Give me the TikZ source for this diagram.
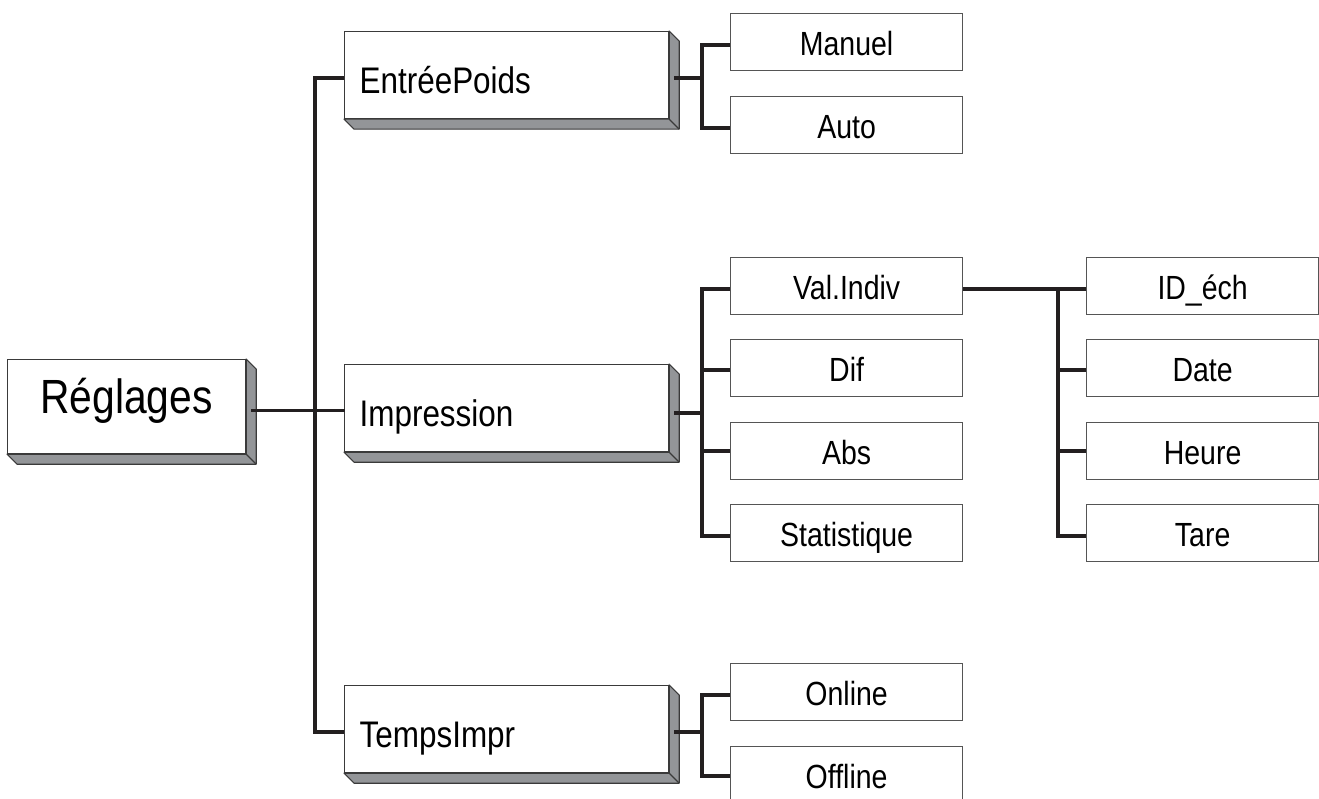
\documentclass[tikz,border=0pt]{standalone}
\usepackage{fontspec}
\setmainfont[FakeStretch=0.85]{Liberation Sans}
\definecolor{lineblack}{HTML}{231F20}
\definecolor{edgegray}{HTML}{3A3A3A}
\definecolor{boxgray}{HTML}{555555}
\definecolor{facegray}{HTML}{939598}
\newcommand\mkshadow[1]{%
  \filldraw[face] (#1.north east) -- ++(10,10) -- ([shift={(10,10)}]#1.south east)
    -- ([shift={(10,10)}]#1.south west) -- (#1.south west) -- (#1.south east) -- cycle;
  \draw[face] (#1.south east) -- ++(10,10);}
\begin{document}
\begin{tikzpicture}[x=1pt,y=-1pt,
  conn/.style={line width=3.6pt, draw=lineblack, line join=miter},
  face/.style={fill=facegray, draw=edgegray, line width=1.1pt, line join=round},
  bigbox/.style={draw=edgegray, line width=1.2pt, fill=white, anchor=north west,
    minimum width=324pt, minimum height=87pt, text width=294pt, inner xsep=15pt,
    inner ysep=0pt, align=left, font=\fontsize{37}{40}\selectfont,
    text height=37pt, text depth=0pt},
  rootbox/.style={draw=edgegray, line width=1.2pt, fill=white, anchor=north west,
    minimum width=238pt, minimum height=94pt, inner sep=0pt,
    font=\fontsize{48}{52}\selectfont, text height=32pt, text depth=18pt},
  smallbox/.style={draw=boxgray, line width=1.2pt, fill=white, anchor=north west,
    minimum width=232pt, minimum height=57pt, inner sep=0pt,
    font=\fontsize{33.5}{36}\selectfont, text height=26pt, text depth=0pt}]
\clip (0,0) rectangle (1319,799);
\fill[white] (0,0) rectangle (1319,799);

% main boxes
\node[rootbox] (reg) at (7,359) {Réglages};
\node[bigbox] (ep) at (344,31) {EntréePoids};
\node[bigbox] (im) at (344,364) {Impression};
\node[bigbox] (tp) at (344,685) {TempsImpr};
\mkshadow{reg}
\mkshadow{ep}
\mkshadow{im}
\mkshadow{tp}

% first column of options
\node[smallbox] (man) at (730,13) {Manuel};
\node[smallbox] (auto) at (730,96) {Auto};
\node[smallbox] (vi) at (730,257) {Val.Indiv};
\node[smallbox] (dif) at (730,339) {Dif};
\node[smallbox] (abs) at (730,422) {Abs};
\node[smallbox] (stat) at (730,504) {Statistique};
\node[smallbox] (on) at (730,663) {Online};
\node[smallbox] (off) at (730,746) {Offline};

% second column
\node[smallbox] (id) at (1086,257) {ID\_éch};
\node[smallbox] (date) at (1086,339) {Date};
\node[smallbox] (heure) at (1086,422) {Heure};
\node[smallbox] (tare) at (1086,504) {Tare};

% trunk
\draw[conn] ([yshift=-3pt]ep.west) -- ++(-29,0) |- ([yshift=-3pt]tp.west);
\draw[conn] ([xshift=5pt,yshift=-4pt]reg.east) -- ++(94,0);

% EntréePoids branch
\draw[conn] ([xshift=5pt,yshift=-3pt]ep.east) -- ++(29,0);
\draw[conn] ([yshift=-3pt]man.west) -- ++(-28,0) |- ([yshift=-3pt]auto.west);

% Impression branch
\draw[conn] ([xshift=5pt,yshift=-5pt]im.east) -- ++(29,0);
\draw[conn] ([yshift=-3pt]vi.west) -- ++(-28,0) |- ([yshift=-3pt]stat.west);
\draw[conn] ([yshift=-2pt]dif.west) -- ++(-28,0);
\draw[conn] (abs.west) -- ++(-28,0);

% Val.Indiv branch
\draw[conn] ([yshift=-3pt]vi.east) -- ([yshift=-3pt]id.west);
\draw[conn] ([xshift=-28pt,yshift=-3pt]id.west) |- ([yshift=-3pt]tare.west);
\draw[conn] ([yshift=-2pt]date.west) -- ++(-28,0);
\draw[conn] (heure.west) -- ++(-28,0);

% TempsImpr branch
\draw[conn] ([xshift=5pt,yshift=-3pt]tp.east) -- ++(29,0);
\draw[conn] ([yshift=-3pt]on.west) -- ++(-28,0) |- ([yshift=-1pt]off.west);
\end{tikzpicture}
\end{document}
